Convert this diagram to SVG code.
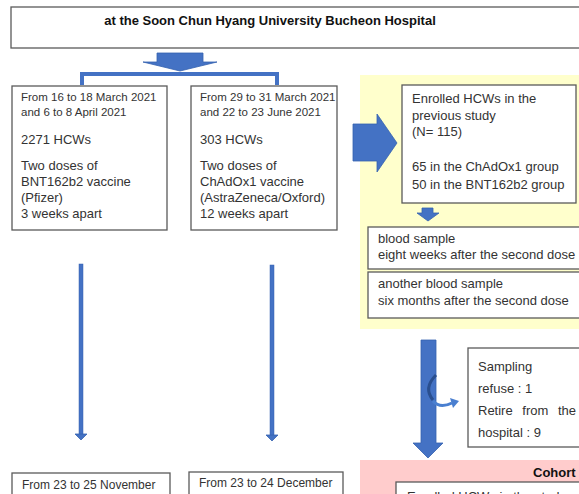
<svg xmlns="http://www.w3.org/2000/svg" width="579" height="494" viewBox="0 0 579 494">
<style>
  .box{fill:#fff;stroke:#5a5a5a;stroke-width:1.3}
  .t{font-family:"Liberation Sans",Arial,sans-serif;font-size:13px;fill:#333}
  .s{font-size:11.5px}
  .b{font-weight:bold;fill:#111}
  .arr{fill:#4472C4;stroke:#3562B0;stroke-width:0.8}
  .ln{fill:none;stroke:#4472C4;stroke-width:4}
</style>
<rect width="579" height="494" fill="#fff"/>
<rect x="360" y="75" width="230" height="254" fill="#FFFFCC"/>
<rect x="360" y="460" width="230" height="40" fill="#FFCCCC"/>

<g id="title">
  <rect class="box" x="11" y="7" width="600" height="41"/>
  <text class="t b" x="270" y="25" text-anchor="middle">at the Soon Chun Hyang University Bucheon Hospital</text>
</g>

<g id="pfizer">
  <rect class="box" x="12" y="86" width="155" height="144"/>
  <text class="t s" x="21" y="101">From 16 to 18 March 2021</text>
  <text class="t s" x="21" y="116">and 6 to 8 April 2021</text>
  <text class="t" x="21" y="144">2271 HCWs</text>
  <text class="t" x="21" y="170">Two doses of</text>
  <text class="t" x="21" y="186">BNT162b2 vaccine</text>
  <text class="t" x="21" y="202">(Pfizer)</text>
  <text class="t" x="21" y="218">3 weeks apart</text>
</g>

<g id="chadox">
  <rect class="box" x="191" y="86" width="146" height="144"/>
  <text class="t s" x="200" y="101">From 29 to 31 March 2021</text>
  <text class="t s" x="200" y="116">and 22 to 23 June 2021</text>
  <text class="t" x="200" y="144">303 HCWs</text>
  <text class="t" x="200" y="170">Two doses of</text>
  <text class="t" x="200" y="186">ChAdOx1 vaccine</text>
  <text class="t" x="200" y="202">(AstraZeneca/Oxford)</text>
  <text class="t" x="200" y="218">12 weeks apart</text>
</g>

<g id="enrolled">
  <rect class="box" x="402" y="85" width="174" height="118"/>
  <text class="t" x="412" y="103">Enrolled HCWs in the</text>
  <text class="t" x="412" y="120">previous study</text>
  <text class="t" x="412" y="136">(N= 115)</text>
  <text class="t" x="412" y="171">65 in the ChAdOx1 group</text>
  <text class="t" x="412" y="189">50 in the BNT162b2 group</text>
</g>

<g id="sample1">
  <rect class="box" x="368" y="227" width="230" height="42"/>
  <text class="t" x="378" y="243">blood sample</text>
  <text class="t" x="378" y="259">eight weeks after the second dose</text>
</g>

<g id="sample2">
  <rect class="box" x="368" y="272" width="230" height="46"/>
  <text class="t" x="378" y="288">another blood sample</text>
  <text class="t" x="378" y="305">six months after the second dose</text>
</g>

<g id="excluded">
  <rect class="box" x="468" y="348" width="130" height="99"/>
  <text class="t" x="478" y="371">Sampling</text>
  <text class="t" x="478" y="393">refuse : 1</text>
  <text class="t" x="478" y="415" word-spacing="6">Retire from the</text>
  <text class="t" x="478" y="437">hospital : 9</text>
</g>

<g id="cohort1">
  <text class="t b" x="533" y="477">Cohort 1</text>
  <rect class="box" x="396" y="482" width="200" height="30"/>
  <text class="t" x="407" y="501">Enrolled HCWs in the study</text>
</g>

<g id="nov">
  <rect class="box" x="12" y="473" width="158" height="30"/>
  <text class="t" style="font-size:12px" x="22" y="489">From 23 to 25 November</text>
</g>

<g id="dec">
  <rect class="box" x="189" y="472" width="154" height="30"/>
  <text class="t" style="font-size:12px" x="199" y="487">From 23 to 24 December</text>
</g>

<g id="connectors">
  <polygon class="arr" points="157,53 203,53 203,62 217,62 180,71 143,62 157,62"/>
  <path class="ln" d="M82 85 V74 H277 V85"/>
  <polygon class="arr" points="353,124 377,124 377,114 397,143 377,172 377,161 353,161"/>
  <polygon class="arr" points="422,208 433,208 433,213 439,213 428,221 417,213 422,213"/>
  <polygon class="arr" points="421,340 436,340 436,443 443,443 428,458 413,443 421,443"/>
  <path d="M436 375 Q423 388 433 400" fill="none" stroke="#2a4f8f" stroke-width="3"/>
  <path d="M433 401 Q440 409 452 403" fill="none" stroke="#4a7fd0" stroke-width="3"/>
  <polygon points="450,398 459,401 453,408" fill="#4a7fd0"/>
  <rect x="79" y="264" width="4" height="171" fill="#4472C4" stroke="#3562B0" stroke-width="0.5"/>
  <polygon class="arr" points="75,434 87,434 81,440"/>
  <rect x="270" y="265" width="4" height="171" fill="#4472C4" stroke="#3562B0" stroke-width="0.5"/>
  <polygon class="arr" points="266,435 278,435 272,441"/>
</g>
</svg>
